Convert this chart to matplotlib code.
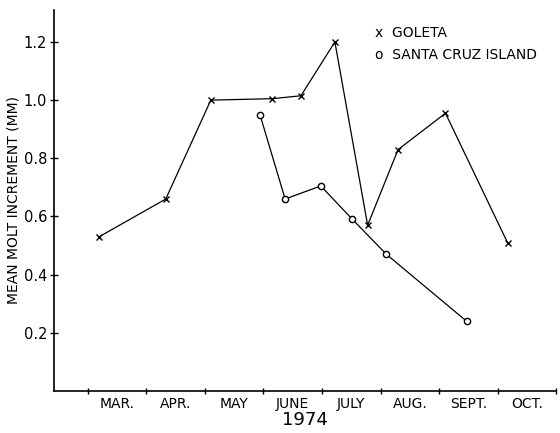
import matplotlib
matplotlib.use('Agg')
import matplotlib.pyplot as plt
import numpy as np

# month positions: 3.0 = start of March
goleta_x = [3.19, 4.33, 5.10, 6.15, 6.64, 7.22, 7.78, 8.30, 9.11, 10.17]
goleta_y = [0.53, 0.66, 1.00, 1.005, 1.015, 1.20, 0.57, 0.83, 0.955, 0.51]
scruz_x = [5.94, 6.37, 6.98, 7.52, 8.10, 9.47]
scruz_y = [0.95, 0.66, 0.705, 0.59, 0.47, 0.24]

months = ['MAR.', 'APR.', 'MAY', 'JUNE', 'JULY', 'AUG.', 'SEPT.', 'OCT.']
month_start = np.arange(3, 12)
yticks = [0.2, 0.4, 0.6, 0.8, 1.0, 1.2]

plt.rcParams['font.family'] = 'DejaVu Sans'
fig = plt.figure(figsize=(5.6, 4.33), dpi=100)
ax = fig.add_axes([0.0964, 0.097, 0.8966, 0.88])

ax.plot(goleta_x, goleta_y, color='black', lw=0.9, marker='x', ms=4.5, mew=1.0)
ax.plot(scruz_x, scruz_y, color='black', lw=0.9, marker='o', ms=4.5, mew=1.0,
        mfc='white')

ax.set_xlim(2.42, 11.0)
ax.set_ylim(0, 1.31)

ax.set_xticks(month_start)
ax.set_xticklabels([])
ax.set_xticks(month_start[:-1] + 0.5, minor=True)
ax.set_xticklabels(months, minor=True, fontsize=10)
ax.tick_params(axis='x', which='major', direction='inout', length=5, width=1)
ax.tick_params(axis='x', which='minor', length=0, pad=4)

ax.set_yticks(yticks)
ax.set_yticklabels(['%.1f' % v for v in yticks], fontsize=10.5)
ax.tick_params(axis='y', direction='inout', length=6, width=1, pad=2)

for s in ['top', 'right']:
    ax.spines[s].set_visible(False)
for s in ['left', 'bottom']:
    ax.spines[s].set_linewidth(1.2)

ax.set_ylabel('MEAN MOLT INCREMENT (MM)', fontsize=10, labelpad=2)
ax.set_xlabel('1974', fontsize=13, labelpad=0, color='black')

ax.text(0.64, 0.93, 'x  GOLETA', transform=ax.transAxes, fontsize=10)
ax.text(0.64, 0.87, 'o  SANTA CRUZ ISLAND', transform=ax.transAxes, fontsize=10)

plt.savefig('out.png', dpi=100)
